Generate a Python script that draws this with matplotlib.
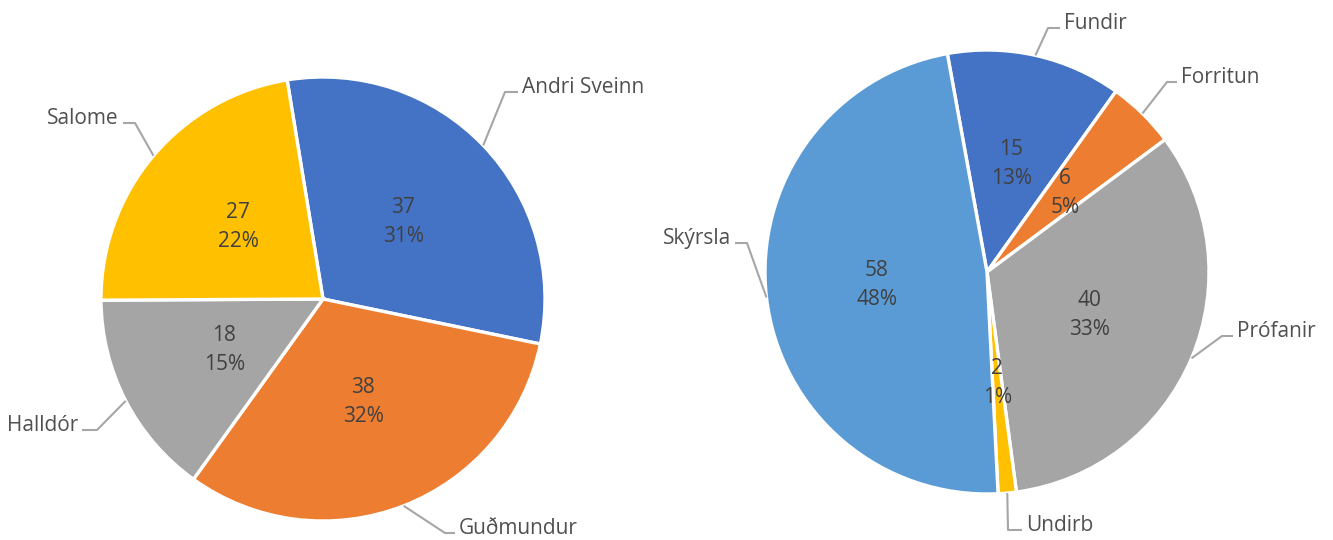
import matplotlib
matplotlib.use("Agg")
import matplotlib.pyplot as plt
import numpy as np

# ---- data ----
left_labels = ["Andri Sveinn", "Guðmundur", "Halldór", "Salome"]
left_values = [37, 38, 18, 27]
right_labels = ["Fundir", "Forritun", "Prófanir", "Undirb", "Skýrsla"]
right_values = [15.4, 6, 40, 1.6, 58]

colors = ["#4472C4", "#ED7D31", "#A5A5A5", "#FFC000", "#5B9BD5"]

W, H = 1333, 540
plt.rcParams['font.family'] = ['Open Sans', 'DejaVu Sans']

fig = plt.figure(figsize=(W / 100, H / 100), dpi=100)
ax = fig.add_axes([0, 0, 1, 1])

def py(y):
    return H - y

R = 222
# layout: pie center (px), start angle, and per-label elbow/hseg layout
pies = [
    dict(labels=left_labels, values=left_values, center=(323, 299), start=99.3,
         layout=[((505, 92), 13), ((445, 533), 10), ((97, 430), -15), ((135, 123), -12)]),
    dict(labels=right_labels, values=right_values, center=(987, 272), start=100.3,
         layout=[((1048, 28), 12), ((1167, 82), 10), ((1222, 336), 11), ((1008, 530), 14), ((747, 243), -12)]),
]

inner_color = "#404040"
outer_color = "#505050"
leader_color = "#A6A6A6"

for p in pies:
    vals = np.array(p["values"], dtype=float)
    total = vals.sum()
    cx, cy = p["center"][0], py(p["center"][1])
    wedges, _ = ax.pie(vals, colors=colors[:len(vals)], startangle=p["start"],
                       counterclock=False, center=(cx, cy), radius=R,
                       wedgeprops=dict(edgecolor="white", linewidth=2.4))
    for w, v, lab, (elbow, hlen) in zip(wedges, vals, p["labels"], p["layout"]):
        mid = np.deg2rad((w.theta1 + w.theta2) / 2)
        # inner labels
        lx = cx + 0.5 * R * np.cos(mid)
        ly = cy + 0.5 * R * np.sin(mid)
        ax.text(lx, ly + 14.5, f"{v:.0f}", ha="center", va="center",
                fontsize=15, color=inner_color)
        ax.text(lx, ly - 14.5, f"{100 * v / total:.0f}%", ha="center", va="center",
                fontsize=15, color=inner_color)
        # leader line
        ex = cx + R * np.cos(mid)
        ey = cy + R * np.sin(mid)
        bx, by = elbow[0], py(elbow[1])
        hx = bx + hlen
        ax.plot([ex, bx, hx], [ey, by, by], color=leader_color, lw=1.5,
                solid_capstyle="butt", zorder=3)
        if hlen > 0:
            ax.text(hx + 4, by - 1, lab, ha="left", va="baseline",
                    fontsize=15, color=outer_color)
        else:
            ax.text(hx - 4, by - 1, lab, ha="right", va="baseline",
                    fontsize=15, color=outer_color)

ax.set_xlim(0, W)
ax.set_ylim(0, H)
ax.set_aspect("equal")
ax.set_axis_off()

fig.savefig("out.png", dpi=100, facecolor="white")
